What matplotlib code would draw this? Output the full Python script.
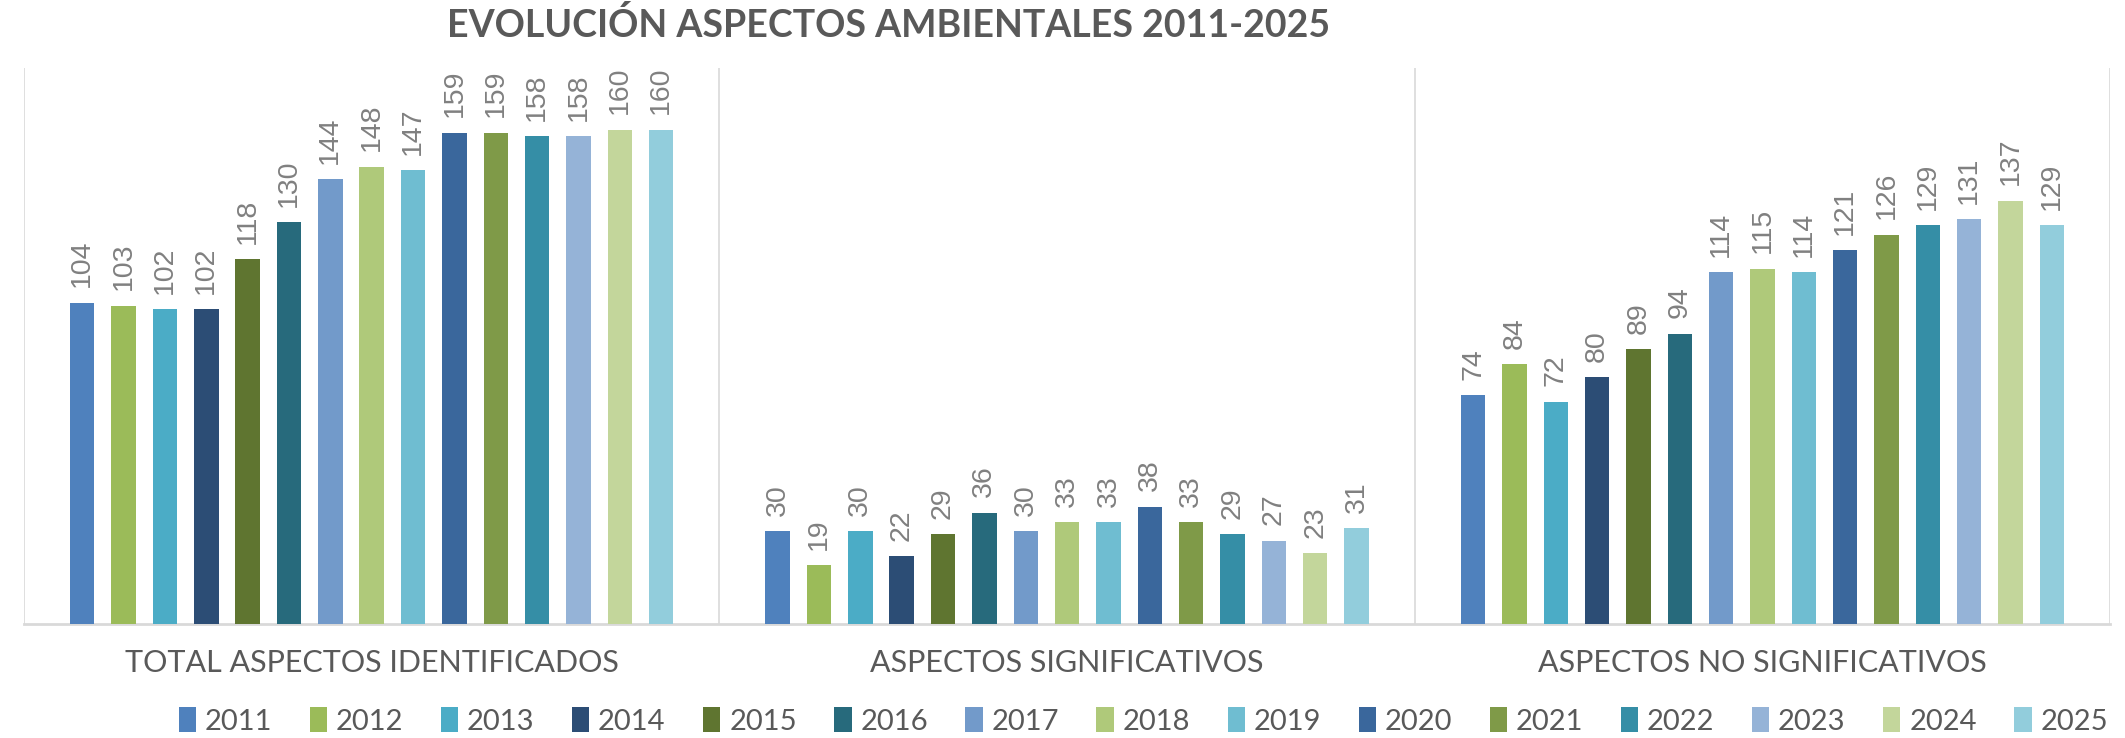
import matplotlib
matplotlib.use("Agg")
import matplotlib.pyplot as plt
from matplotlib.patches import Patch
import numpy as np

categories = ["TOTAL ASPECTOS IDENTIFICADOS", "ASPECTOS SIGNIFICATIVOS", "ASPECTOS NO SIGNIFICATIVOS"]
years = ["2011", "2012", "2013", "2014", "2015", "2016", "2017", "2018",
         "2019", "2020", "2021", "2022", "2023", "2024", "2025"]
total = [104, 103, 102, 102, 118, 130, 144, 148, 147, 159, 159, 158, 158, 160, 160]
signif = [30, 19, 30, 22, 29, 36, 30, 33, 33, 38, 33, 29, 27, 23, 31]
no_signif = [74, 84, 72, 80, 89, 94, 114, 115, 114, 121, 126, 129, 131, 137, 129]
colors = ["#4F81BD", "#9BBB59", "#4BACC6", "#2C4D75", "#5F7530", "#276A7C",
          "#729ACA", "#AFC97A", "#6FBDD1", "#3A679C", "#7F9A48", "#358EA6",
          "#95B3D7", "#C3D69B", "#92CDDC"]

values = np.array([total, signif, no_signif])  # shape (3 cats, 15 years)

fig = plt.figure(figsize=(21.25, 7.38), dpi=100)
ax = fig.add_axes([0.0113, 0.1545, 0.9817, 0.7535])

pitch = 30.5 / 513
width = 18 / 513
x = np.arange(len(categories))
for j, yr in enumerate(years):
    pos = x + (j - 7) * pitch
    vals = values[:, j]
    ax.bar(pos, vals, width=width, color=colors[j], label=yr, zorder=3)
    for p, v in zip(pos, vals):
        ax.annotate(str(v), (p, v), xytext=(0, 11), textcoords="offset points",
                    rotation=90, ha="center", va="bottom", fontsize=20.5,
                    color="#808080", family="Liberation Sans")

ax.set_xlim(-0.5, 2.5)
ax.set_ylim(0, 180)
ax.set_yticks([])
ax.set_xticks(x)
ax.set_xticklabels(categories, fontsize=22, color="#595959", family="Lato")
ax.tick_params(axis="x", length=0, pad=18)
for b in [-0.5, 0.5, 1.5, 2.5]:
    ax.axvline(b, color="#D9D9D9", lw=1.2, zorder=1)
for s in ["top", "left", "right"]:
    ax.spines[s].set_visible(False)
ax.spines["bottom"].set_color("#D9D9D9")
ax.spines["bottom"].set_linewidth(2)

fig.text(0.418, 0.966, "EVOLUCIÓN ASPECTOS AMBIENTALES 2011-2025", ha="center", va="center",
         fontsize=27, fontweight="bold", color="#595959", family="Lato")

handles = [Patch(facecolor=c, label=y) for c, y in zip(colors, years)]
fig.legend(handles=handles, loc="center", bbox_to_anchor=(0.538, 0.023), ncol=15,
           frameon=False, handlelength=0.6, handleheight=0.9,
           handletextpad=0.3, columnspacing=1.28, labelcolor="#595959",
           prop={"family": "Lato", "size": 21})

fig.savefig("out.png", dpi=100)
